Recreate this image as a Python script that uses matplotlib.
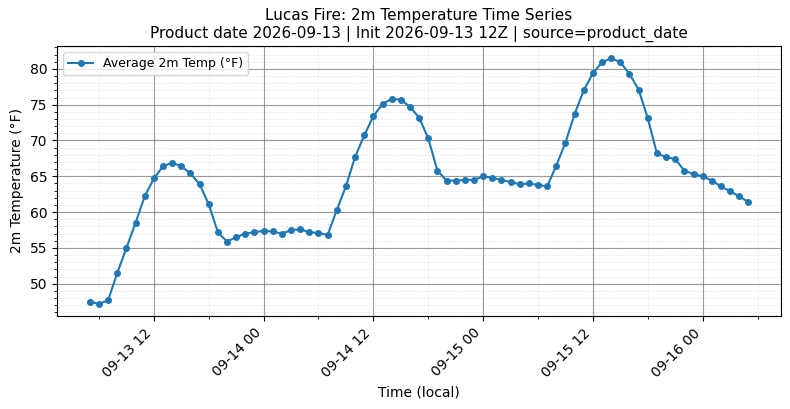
import matplotlib
matplotlib.use("Agg")
import matplotlib.pyplot as plt
import matplotlib.dates as mdates
import pandas as pd
import numpy as np

start_time = "2026-09-13 05:00"
temps_f = [47.5, 47.2, 47.7, 51.5, 55.0, 58.5, 62.2, 64.7, 66.4, 66.9,
           66.4, 65.4, 63.9, 61.1, 57.2, 55.9, 56.5, 57.0, 57.2, 57.4,
           57.3, 57.0, 57.5, 57.6, 57.2, 57.1, 56.8, 60.3, 63.6, 67.7,
           70.7, 73.4, 75.1, 75.8, 75.7, 74.7, 73.2, 70.3, 65.8, 64.4,
           64.4, 64.5, 64.5, 65.0, 64.8, 64.5, 64.2, 63.9, 64.0, 63.8,
           63.6, 66.5, 69.7, 73.7, 77.0, 79.4, 80.9, 81.5, 80.9, 79.3,
           77.1, 73.1, 68.2, 67.7, 67.4, 65.8, 65.3, 65.0, 64.4, 63.6,
           62.9, 62.2, 61.4]
times = pd.date_range(start_time, periods=len(temps_f), freq="h")

title = "Lucas Fire: 2m Temperature Time Series\nProduct date 2026-09-13 | Init 2026-09-13 12Z | source=product_date"

fig = plt.figure(figsize=(7.9, 4.09), dpi=100)
ax = fig.add_axes([0.072, 0.227, 0.917, 0.661])
ax.plot(times, temps_f, marker="o", markersize=4, linewidth=1.5,
        color="#1f77b4", label="Average 2m Temp (°F)")

ax.xaxis.set_major_locator(mdates.HourLocator(byhour=[0, 12]))
ax.xaxis.set_minor_locator(mdates.HourLocator(byhour=[6, 18]))
ax.xaxis.set_major_formatter(mdates.DateFormatter("%m-%d %H"))
ax.yaxis.set_major_locator(matplotlib.ticker.MultipleLocator(5))
ax.yaxis.set_minor_locator(matplotlib.ticker.MultipleLocator(1))

ax.grid(True, which="major", color="gray", linestyle="-", linewidth=0.8, alpha=0.8)
ax.grid(True, which="minor", color="lightgray", linestyle=":", linewidth=0.6, alpha=0.8)

plt.setp(ax.get_xticklabels(), rotation=45, ha="right")
ax.set_xlabel("Time (local)")
ax.set_ylabel("2m Temperature (°F)")
ax.set_title(title, fontsize=11)
ax.legend(loc="upper left", fontsize=9)

fig.savefig("out.png", dpi=100)
